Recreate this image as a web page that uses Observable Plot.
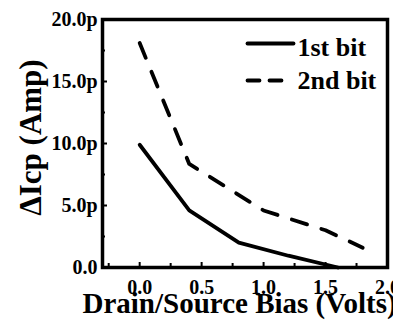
<!DOCTYPE html>
<html><head><meta charset="utf-8">
<script src="https://cdn.jsdelivr.net/npm/d3@7"></script>
<script src="https://cdn.jsdelivr.net/npm/@observablehq/plot@0.6"></script>
<style>body{margin:0;background:#fff;font-family:'Liberation Serif',serif}</style>
</head><body><div id="chart"></div>
<script>
const biasFirst = [0, 0.4, 0.8, 1.2, 1.6];
const icpFirst = [9.9, 4.6, 2.0, 0.95, 0];
const biasSecond = [0, 0.4, 1.0, 1.5, 1.8];
const icpSecond = [18.1, 8.35, 4.6, 3.0, 1.6];
const seriesNames = ["1st bit", "2nd bit"];
const xTicks = [0, 0.5, 1, 1.5, 2];
const xMinorTicks = [-0.25, 0.25, 0.75, 1.25, 1.75];
const yTicks = [0, 5, 10, 15, 20];
const yMinorTicks = [2.5, 7.5, 12.5, 17.5];
const xTitle = "Drain/Source Bias (Volts)";
const yTitle = "ΔIcp (Amp)";

const first = biasFirst.map((b, i) => ({bias: b, icp: icpFirst[i]}));
const second = biasSecond.map((b, i) => ({bias: b, icp: icpSecond[i]}));

const W = 393, H = 326, ML = 102, MR = 6, MT = 19, MB = 59;
const FW = W - ML - MR, FH = H - MT - MB;
const FONT = "Liberation Serif, serif";
const lineShape = {draw(ctx, l) { ctx.moveTo(0, 0); ctx.lineTo(0, -l); }};

const chart = Plot.plot({
  width: W, height: H,
  marginLeft: ML, marginRight: MR, marginTop: MT, marginBottom: MB,
  x: {domain: [-0.3, 2.0]},
  y: {domain: [0, 20]},
  style: {fontFamily: FONT, fontWeight: "bold", fontSize: "20px", color: "black", background: "white"},
  marks: [
    Plot.axisX(xTicks, {tickSize: 0, tickPadding: 12, tickFormat: d => d.toFixed(1), label: null, fontSize: 20}),
    Plot.axisY(yTicks, {tickSize: 0, tickPadding: 5, tickFormat: d => d === 0 ? "0.0" : d.toFixed(1) + "p", label: null, fontSize: 20}),
    Plot.tickX(xTicks, {x: d => d, insetTop: FH - 5, strokeWidth: 2}),
    Plot.tickX(xMinorTicks, {x: d => d, insetTop: FH - 4, strokeWidth: 2}),
    Plot.tickY(yTicks, {y: d => d, insetRight: FW - 5, strokeWidth: 2}),
    Plot.tickY(yMinorTicks, {y: d => d, insetRight: FW - 3, strokeWidth: 2}),
    Plot.line(first, {x: "bias", y: "icp", stroke: "black", strokeWidth: 3.8}),
    Plot.line(second, {x: "bias", y: "icp", stroke: "black", strokeWidth: 3.8, strokeDasharray: "16,15"}),
    Plot.vector([seriesNames[0]], {frameAnchor: "top-right", dx: -140, dy: 24, length: 46, rotate: 90, anchor: "start", shape: lineShape, stroke: "black", strokeWidth: 3.8}),
    Plot.vector([seriesNames[1]], {frameAnchor: "top-right", dx: -140, dy: 61, length: 36, rotate: 90, anchor: "start", shape: lineShape, stroke: "black", strokeWidth: 3.8, strokeDasharray: "12,10"}),
    Plot.text([seriesNames[0]], {text: d => d, frameAnchor: "top-right", textAnchor: "start", lineAnchor: "bottom", dx: -90, dy: 36, fontSize: 26}),
    Plot.text([seriesNames[1]], {text: d => d, frameAnchor: "top-right", textAnchor: "start", lineAnchor: "bottom", dx: -90, dy: 69, fontSize: 26}),
    Plot.text([xTitle], {text: d => d, frameAnchor: "bottom-left", textAnchor: "start", lineAnchor: "bottom", dx: -20, dy: 45, fontSize: 29}),
    Plot.text([yTitle], {text: d => d, frameAnchor: "left", rotate: -90, textAnchor: "middle", lineAnchor: "bottom", dx: -62, dy: -6, fontSize: 31}),
    Plot.frame({stroke: "black", strokeWidth: 3.5})
  ]
});
d3.select(chart).selectAll("text").attr("font-family", FONT).style("font-weight", "bold");
document.getElementById("chart").append(chart);
</script>
</body></html>
